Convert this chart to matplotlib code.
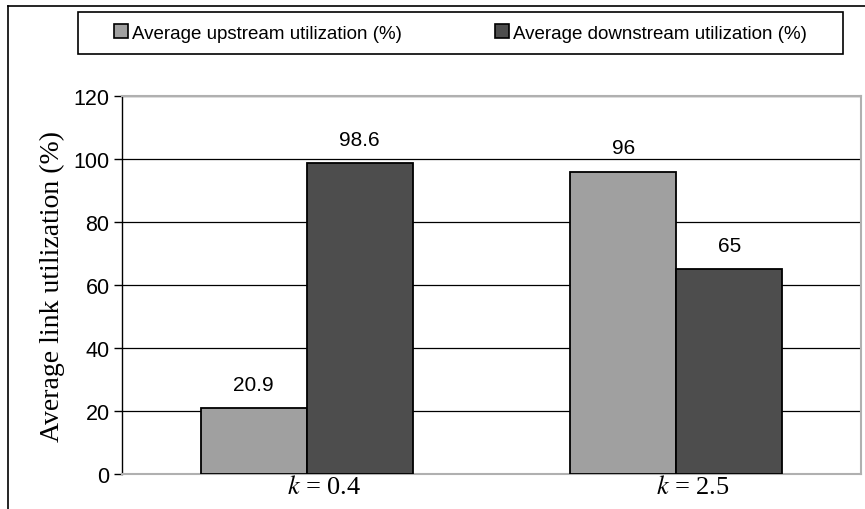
import numpy as np
import matplotlib
matplotlib.use("Agg")
import matplotlib.pyplot as plt
import matplotlib.transforms as mtrans
from matplotlib.patches import Patch
from matplotlib.lines import Line2D

# donnees
categories = [r"$k$ = 0.4", r"$k$ = 2.5"]
upstream = [20.9, 96]
downstream = [98.6, 65]
series_names = ["Average upstream utilization (%)", "Average downstream utilization (%)"]
colors = ["#a0a0a0", "#4d4d4d"]

plt.rcParams["mathtext.fontset"] = "stix"
plt.rcParams["font.family"] = ["Liberation Sans", "DejaVu Sans"]

fig = plt.figure(figsize=(8.65, 5.1), dpi=100)
ax = fig.add_axes([122/865, 35/510, (861-122)/865, (475-97)/510])

x = np.arange(len(categories))
w = 0.287
b1 = ax.bar(x - w/2, upstream, w, color=colors[0], edgecolor="black", linewidth=1.3, zorder=3)
b2 = ax.bar(x + w/2, downstream, w, color=colors[1], edgecolor="black", linewidth=1.3, zorder=3)

# etiquettes des valeurs
for bars, vals in [(b1, upstream), (b2, downstream)]:
    for r, v in zip(bars, vals):
        ax.text(r.get_x() + r.get_width()/2, v + 4.5, f"{v:g}", ha="center", va="bottom", fontsize=15)

ax.set_xlim(-0.5, 1.5)
ax.set_ylim(0, 120)
ax.set_yticks(range(0, 121, 20))
ax.tick_params(axis="y", labelsize=15.5, length=6, width=1, direction="out", pad=3)
ax.set_xticks(x)
ax.set_xticklabels(categories, fontsize=19, family="Liberation Serif")
ax.tick_params(axis="x", length=0, pad=1)
# les etiquettes k sont decalees un peu a droite dans l'original
decal = mtrans.ScaledTranslation(0.17, 0, fig.dpi_scale_trans)
for lab in ax.get_xticklabels():
    lab.set_transform(lab.get_transform() + decal)
ax.yaxis.grid(True, color="black", linewidth=0.9, zorder=0)
ax.set_axisbelow(True)

for s in ["top", "right", "bottom"]:
    ax.spines[s].set_color("#b0b0b0")
    ax.spines[s].set_linewidth(1.5)
ax.spines["left"].set_color("black")
ax.spines["left"].set_linewidth(1)

ax.set_ylabel("Average link utilization (%)", fontsize=20, family="Liberation Serif", labelpad=6)

# legende en haut
handles = [Patch(facecolor=c, edgecolor="black", linewidth=1.2) for c in colors]
leg = fig.legend(handles, series_names, loc="center", ncol=2,
                 bbox_to_anchor=(78/865, 1-55/510, (843-78)/865, 42/510),
                 fontsize=13.5, frameon=False,
                 handlelength=0.75, handleheight=0.75, handletextpad=0.2, columnspacing=5.0,
                 borderaxespad=0)
# cadre de la legende
fig.add_artist(plt.Rectangle((78/865, 1-55/510), (843-78)/865, 42/510, transform=fig.transFigure,
                             fill=False, edgecolor="black", linewidth=1.2))

# cadre exterieur
fig.add_artist(Line2D([8/865, 8/865], [0, 1-7/510], color="black", linewidth=1.2))
fig.add_artist(Line2D([8/865, 1], [1-7/510, 1-7/510], color="black", linewidth=1.2))

fig.savefig("out.png", dpi=100)
